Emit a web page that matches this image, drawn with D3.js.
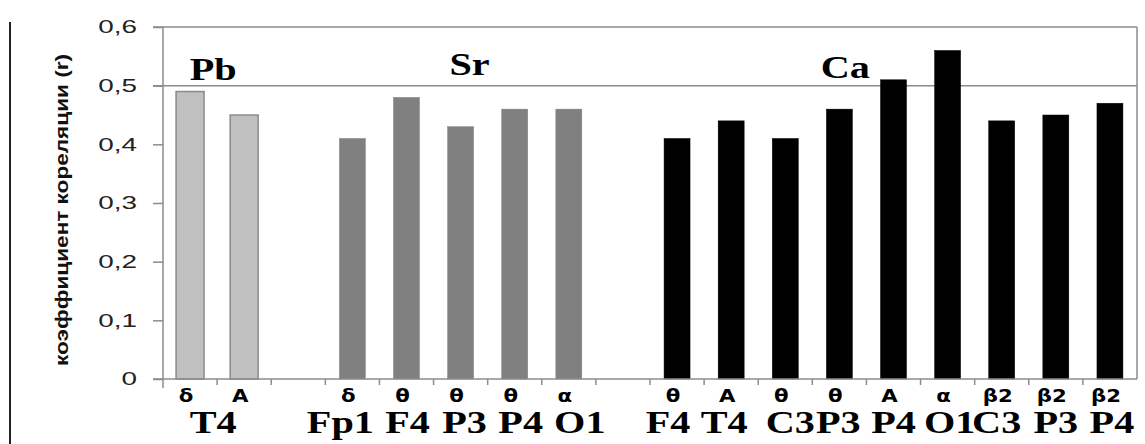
<!DOCTYPE html>
<html><head><meta charset="utf-8">
<script src="https://cdn.jsdelivr.net/npm/d3@7"></script>
<style>
html,body{margin:0;padding:0;background:#fff;}
svg{display:block;}
.serif{font-family:'Liberation Serif','Times New Roman',Times,'DejaVu Serif','Noto Serif',serif;font-weight:bold;}
.ytitle{font-family:'Liberation Sans Narrow','Arial Narrow','Liberation Sans',Arial,sans-serif;font-weight:bold;}
.tick{font-family:'Liberation Sans',Arial,sans-serif;}
.rhythm{font-family:'DejaVu Sans',sans-serif;font-weight:bold;}
</style></head>
<body>
<svg id="chart" width="1145" height="444"></svg>
<script>
// ---- data ----
const groups = ["Pb", "Sr", "Ca"];
const pbRhythms = ["δ", "A"];
const pbElectrodes = ["T4"];
const pbValues = [0.49, 0.45];
const srRhythms = ["δ", "θ", "θ", "θ", "α"];
const srElectrodes = ["Fp1", "F4", "P3", "P4", "O1"];
const srValues = [0.41, 0.48, 0.43, 0.46, 0.46];
const caRhythms = ["θ", "A", "θ", "θ", "A", "α", "β2", "β2", "β2"];
const caElectrodes = ["F4", "T4", "C3", "P3", "P4", "O1", "C3", "P3", "P4"];
const caValues = [0.41, 0.44, 0.41, 0.46, 0.51, 0.56, 0.44, 0.45, 0.47];
const yTicks = [0, 0.1, 0.2, 0.3, 0.4, 0.5, 0.6];
const yTickLabels = ["0", "0,1", "0,2", "0,3", "0,4", "0,5", "0,6"];
const yTitle = "коэффициент кореляции (r)";

// ---- build slot list (with empty gap slots between groups) ----
const groupData = [
  {name: groups[0], rhythms: pbRhythms, values: pbValues, fill: "#c0c0c0", stroke: "#8a8a8a"},
  {name: groups[1], rhythms: srRhythms, values: srValues, fill: "#808080", stroke: "#808080"},
  {name: groups[2], rhythms: caRhythms, values: caValues, fill: "#000000", stroke: "#000000"}
];
const slots = [];
const bars = [];
groupData.forEach((g, gi) => {
  if (gi > 0) slots.push("gap" + gi);
  g.rhythms.forEach((r, i) => {
    const id = g.name + "-" + i;
    slots.push(id);
    bars.push({id, group: g, rhythm: r, value: g.values[i], idx: i});
  });
});

const svg = d3.select("#chart");
const x0 = 163, x1 = 1137, yTop = 27, yBot = 379;
const x = d3.scaleBand().domain(slots).range([x0, x1]).paddingInner(0.52).paddingOuter(0.26);
const y = d3.scaleLinear().domain([0, 0.6]).range([yBot, yTop]);
const step = x.step();

// left decorative line
svg.append("line").attr("x1", 10).attr("x2", 10).attr("y1", 22).attr("y2", 444)
  .attr("stroke", "#222").attr("stroke-width", 2);

const grid = "#8c8c8c";
[0.5, 0.6].forEach(v => {
  svg.append("line").attr("x1", 153).attr("x2", x1).attr("y1", y(v)).attr("y2", y(v))
    .attr("stroke", grid).attr("stroke-width", 1.5);
});
svg.append("line").attr("x1", x1).attr("x2", x1).attr("y1", yTop).attr("y2", yBot)
  .attr("stroke", grid).attr("stroke-width", 1.5);

// bars
svg.append("g").selectAll("rect").data(bars).join("rect")
  .attr("x", d => x(d.id) + (d.group.name === "Pb" ? -1 : 0))
  .attr("width", d => x.bandwidth() + (d.group.name === "Pb" ? 2 : 0))
  .attr("y", d => y(d.value))
  .attr("height", d => y(0) - y(d.value))
  .attr("fill", d => d.group.fill)
  .attr("stroke", d => d.group.stroke)
  .attr("stroke-width", d => d.group.name === "Pb" ? 1.5 : 0.5);

// y axis ticks
const yAxis = d3.axisLeft(y).tickValues(yTicks).tickSize(10).tickFormat("");
const ya = svg.append("g").attr("transform", `translate(${x0},0)`).call(yAxis);
ya.select(".domain").remove();
ya.selectAll(".tick line").attr("stroke", grid).attr("stroke-width", 1.5);
svg.append("line").attr("x1", x0).attr("x2", x0).attr("y1", yTop).attr("y2", 388)
  .attr("stroke", grid).attr("stroke-width", 1.5);
svg.append("g").selectAll("text").data(yTicks).join("text")
  .attr("class", "tick")
  .attr("transform", d => `translate(137,${y(d)}) scale(1.55,1)`)
  .attr("text-anchor", "end").attr("dy", "0.36em")
  .attr("font-size", 18)
  .attr("fill", "#222")
  .text((d, i) => yTickLabels[i]);

// x axis line and ticks at slot boundaries
svg.append("line").attr("x1", 153).attr("x2", x1).attr("y1", yBot).attr("y2", yBot)
  .attr("stroke", grid).attr("stroke-width", 1.5);
svg.append("g").selectAll("line").data(slots.slice(1)).join("line")
  .attr("x1", d => x(d) - step * 0.26).attr("x2", d => x(d) - step * 0.26)
  .attr("y1", yBot).attr("y2", yBot + 6)
  .attr("stroke", grid).attr("stroke-width", 1.5);

// y title
svg.append("text")
  .attr("class", "ytitle")
  .attr("transform", "translate(68,210) rotate(-90)")
  .attr("text-anchor", "middle")
  .attr("font-size", 19)
  .attr("textLength", 312).attr("lengthAdjust", "spacingAndGlyphs")
  .attr("fill", "#111")
  .text(yTitle);

const cx = id => x(id) + x.bandwidth() / 2;

// rhythm labels (top row under axis)
svg.append("g").selectAll("text").data(bars).join("text")
  .attr("class", "rhythm")
  .attr("transform", d => `translate(${cx(d.id) - 4},402) scale(1.25,1)`)
  .attr("text-anchor", "middle")
  .attr("font-size", 17)
  .attr("fill", "#000")
  .text(d => d.rhythm);

// serif labels: measure a sample so widths match reference (T4 ≈ 47px wide)
const probe = svg.append("text").attr("class", "serif").attr("font-size", 31).text("T4");
const sx = 47 / probe.node().getComputedTextLength();
probe.remove();

const elecLabels = [];
elecLabels.push({text: pbElectrodes[0], x: (cx("Pb-0") + cx("Pb-1")) / 2 - 4});
srElectrodes.forEach((e, i) => elecLabels.push({text: e, x: cx("Sr-" + i) + [-12, 1, 4, 6, 11][i]}));
caElectrodes.forEach((e, i) => elecLabels.push({text: e, x: cx("Ca-" + i) + [-9, -7, 5, -1, 0, 2, -5, 0, 2][i]}));
svg.append("g").selectAll("text").data(elecLabels).join("text")
  .attr("class", "serif")
  .attr("transform", d => `translate(${d.x},433) scale(${sx},1)`)
  .attr("text-anchor", "middle")
  .attr("font-size", 31)
  .attr("fill", "#000")
  .text(d => d.text);

// group labels
const groupLabelPos = [
  {name: groups[0], x: (cx("Pb-0") + cx("Pb-1")) / 2 - 4, y: 80},
  {name: groups[1], x: cx("Sr-2") + 9, y: 75},
  {name: groups[2], x: cx("Ca-3") + 6, y: 78}
];
svg.append("g").selectAll("text").data(groupLabelPos).join("text")
  .attr("class", "serif")
  .attr("transform", d => `translate(${d.x},${d.y}) scale(${sx},1)`)
  .attr("text-anchor", "middle")
  .attr("font-size", 31)
  .attr("fill", "#000")
  .text(d => d.name);
</script>
</body></html>
